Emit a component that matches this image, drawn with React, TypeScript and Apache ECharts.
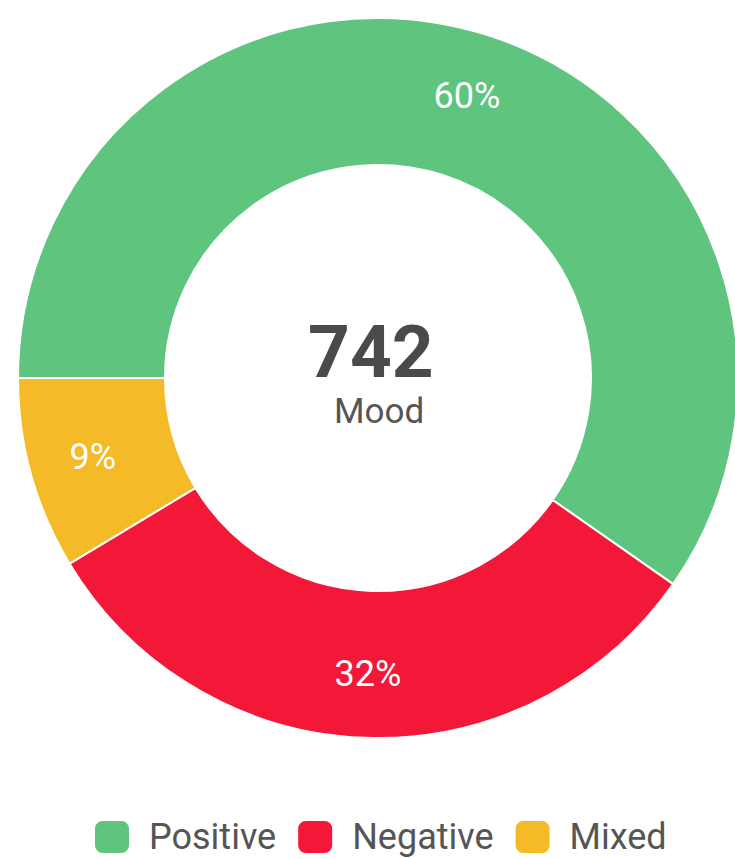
import React, { useEffect, useRef } from "react";
import * as echarts from "echarts";

const categories = ["Positive", "Negative", "Mixed"];
const values = [443, 235, 64];
const colors = ["#5EC47E", "#F31838", "#F5BA28"];
const centerValue = "742";
const centerLabel = "Mood";

export default function App() {
  const ref = useRef<HTMLDivElement>(null);
  useEffect(() => {
    document.body.style.margin = "0";
    if (!ref.current) return;
    const chart = echarts.init(ref.current, null, { renderer: "svg" });
    const total = values.reduce((a, b) => a + b, 0);
    const pieData = categories.map((name, i) => ({ name, value: values[i] }));
    chart.setOption({
      animation: false,
      color: colors,
      legend: {
        data: categories,
        top: 819,
        left: 93,
        icon: "roundRect",
        itemWidth: 36,
        itemHeight: 34,
        itemGap: 20,
        padding: 0,
        textStyle: {
          fontFamily: "Roboto",
          fontSize: 36,
          lineHeight: 36,
          color: "#555555",
          padding: [0, 0, 0, 14],
        },
      },
      graphic: [
        {
          type: "text",
          left: 308,
          top: 315,
          style: { text: centerValue, font: "bold 73px Roboto", fill: "#4a4a4a", lineHeight: 73 },
        },
        {
          type: "text",
          left: 334,
          top: 394,
          style: { text: centerLabel, font: "35px Roboto", fill: "#555555", lineHeight: 35 },
        },
      ],
      series: [
        {
          type: "pie",
          center: [378, 378],
          radius: [213, 360],
          startAngle: 180,
          clockwise: true,
          avoidLabelOverlap: false,
          emphasis: { disabled: true },
          itemStyle: { borderColor: "#ffffff", borderWidth: 2 },
          label: { show: false },
          labelLine: { show: false },
          data: pieData,
        },
        {
          type: "pie",
          center: [378, 378],
          radius: [228, 358],
          startAngle: 180,
          clockwise: true,
          silent: true,
          avoidLabelOverlap: false,
          emphasis: { disabled: true },
          itemStyle: { color: "transparent", borderWidth: 0 },
          label: {
            show: true,
            position: "inside",
            color: "#ffffff",
            fontFamily: "Roboto",
            fontSize: 36,
            formatter: (p: any) => Math.round((p.value / total) * 100) + "%",
          },
          labelLine: { show: false },
          data: pieData,
        },
      ],
    });
    return () => chart.dispose();
  }, []);
  return <div ref={ref} style={{ width: 735, height: 859 }} />;
}
